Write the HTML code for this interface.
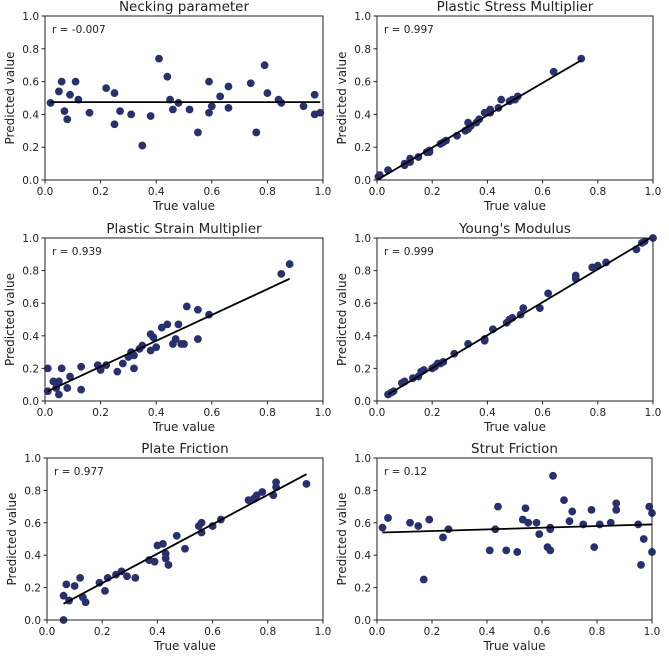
<!DOCTYPE html>
<html><head><meta charset="utf-8"><style>
body{margin:0;background:#fff;}
svg text{font-family:"DejaVu Sans","Liberation Sans",sans-serif;fill:#222;}
</style></head><body>
<svg id="fig" width="669" height="662" xmlns="http://www.w3.org/2000/svg"></svg>
<script>
const titles=["Necking parameter","Plastic Stress Multiplier","Plastic Strain Multiplier","Young's Modulus","Plate Friction","Strut Friction"];
const rLabels=["r = -0.007","r = 0.997","r = 0.939","r = 0.999","r = 0.977","r = 0.12"];
const ticks=[0,0.2,0.4,0.6,0.8,1.0];
const p1x=[0.02,0.05,0.06,0.07,0.08,0.09,0.11,0.12,0.16,0.22,0.25,0.25,0.27,0.31,0.35,0.38,0.41,0.44,0.45,0.46,0.48,0.52,0.55,0.59,0.59,0.60,0.63,0.66,0.66,0.74,0.76,0.79,0.80,0.84,0.85,0.93,0.97,0.97,0.99];
const p1y=[0.47,0.54,0.60,0.42,0.37,0.52,0.60,0.49,0.41,0.56,0.53,0.34,0.42,0.40,0.21,0.39,0.74,0.63,0.49,0.43,0.47,0.43,0.29,0.60,0.41,0.45,0.51,0.44,0.57,0.59,0.29,0.70,0.53,0.49,0.47,0.45,0.40,0.52,0.41];
const p1line=[[0.02,0.475],[0.99,0.475]];
const p2x=[0.005,0.01,0.04,0.1,0.1,0.12,0.12,0.15,0.18,0.19,0.19,0.23,0.24,0.25,0.29,0.32,0.33,0.33,0.34,0.36,0.37,0.39,0.41,0.41,0.44,0.45,0.48,0.49,0.5,0.51,0.64,0.74];
const p2y=[0.02,0.03,0.06,0.1,0.09,0.13,0.11,0.14,0.17,0.18,0.17,0.22,0.23,0.24,0.27,0.30,0.31,0.35,0.33,0.35,0.37,0.41,0.41,0.43,0.44,0.49,0.48,0.49,0.49,0.51,0.66,0.74];
const p2line=[[0,0],[0.74,0.73]];
const p3x=[0.01,0.01,0.03,0.04,0.05,0.05,0.06,0.08,0.09,0.13,0.13,0.19,0.2,0.22,0.26,0.28,0.3,0.31,0.32,0.32,0.34,0.35,0.38,0.38,0.39,0.4,0.42,0.44,0.46,0.47,0.48,0.49,0.5,0.51,0.55,0.55,0.59,0.85,0.88];
const p3y=[0.06,0.20,0.12,0.08,0.12,0.04,0.20,0.08,0.15,0.21,0.07,0.22,0.19,0.22,0.18,0.23,0.27,0.30,0.20,0.28,0.32,0.34,0.41,0.31,0.39,0.33,0.45,0.47,0.35,0.38,0.47,0.35,0.35,0.58,0.56,0.38,0.53,0.78,0.84];
const p3line=[[0.01,0.06],[0.88,0.75]];
const p4x=[0.04,0.05,0.06,0.09,0.1,0.13,0.15,0.16,0.17,0.2,0.21,0.22,0.23,0.24,0.28,0.33,0.39,0.39,0.42,0.47,0.48,0.49,0.52,0.53,0.59,0.62,0.72,0.72,0.78,0.8,0.83,0.94,0.96,0.97,1.0];
const p4y=[0.04,0.05,0.06,0.11,0.12,0.14,0.15,0.18,0.19,0.2,0.21,0.23,0.23,0.24,0.29,0.35,0.38,0.37,0.44,0.48,0.50,0.51,0.53,0.57,0.57,0.66,0.75,0.77,0.82,0.83,0.85,0.93,0.97,0.98,1.0];
const p4line=[[0.04,0.04],[0.99,1.0]];
const p5x=[0.06,0.07,0.06,0.08,0.1,0.12,0.13,0.14,0.19,0.21,0.22,0.25,0.27,0.29,0.32,0.37,0.39,0.4,0.42,0.43,0.43,0.44,0.47,0.5,0.55,0.56,0.56,0.6,0.63,0.73,0.75,0.76,0.78,0.82,0.83,0.83,0.94];
const p5y=[0.15,0.22,0.0,0.12,0.21,0.26,0.14,0.11,0.23,0.18,0.26,0.28,0.3,0.27,0.26,0.37,0.36,0.46,0.47,0.38,0.41,0.34,0.52,0.44,0.58,0.6,0.54,0.58,0.62,0.74,0.75,0.77,0.79,0.77,0.85,0.82,0.84];
const p5line=[[0.06,0.10],[0.94,0.90]];
const p6x=[0.02,0.04,0.12,0.15,0.19,0.17,0.24,0.26,0.41,0.43,0.44,0.47,0.51,0.53,0.54,0.55,0.58,0.59,0.62,0.63,0.63,0.63,0.64,0.68,0.7,0.71,0.75,0.78,0.79,0.81,0.85,0.87,0.87,0.95,0.96,0.97,0.99,1.0,1.0];
const p6y=[0.57,0.63,0.60,0.58,0.62,0.25,0.51,0.56,0.43,0.56,0.70,0.43,0.42,0.62,0.69,0.60,0.60,0.53,0.45,0.56,0.57,0.43,0.89,0.74,0.61,0.67,0.59,0.68,0.45,0.59,0.60,0.68,0.72,0.59,0.34,0.50,0.70,0.66,0.42];
const p6line=[[0.02,0.54],[1.0,0.59]];
const xs=[p1x,p2x,p3x,p4x,p5x,p6x], ys=[p1y,p2y,p3y,p4y,p5y,p6y], lines=[p1line,p2line,p3line,p4line,p5line,p6line];
const boxes=[[45,16,278,164],[377,16,276,164],[45,238,278,163],[377,238,276,163],[47,458,276,162],[377,458,275,162]];
const svg=document.getElementById('fig');const NS='http://www.w3.org/2000/svg';
function mk(tag,attrs,parent){const e=document.createElementNS(NS,tag);for(const k in attrs)e.setAttribute(k,attrs[k]);(parent||svg).appendChild(e);return e;}
boxes.forEach((b,i)=>{
  const [L,T,W,H]=b;
  const g=mk('g',{});
  
  
  const sx=v=>L+v*W, sy=v=>T+H-v*H;
  const t=mk('text',{x:L+W/2,y:T-5,'text-anchor':'middle','font-size':'13.5'},g);t.textContent=titles[i];
  
  
  ticks.forEach(v=>{
    mk('line',{x1:sx(v),x2:sx(v),y1:T+H,y2:T+H+3.5,stroke:'#222','stroke-width':1},g);
    const tx=mk('text',{x:sx(v),y:T+H+15,'text-anchor':'middle','font-size':'10.5'},g);tx.textContent=v.toFixed(1);
    
    
    mk('line',{x1:L-3.5,x2:L,y1:sy(v),y2:sy(v),stroke:'#222','stroke-width':1},g);
    const ty=mk('text',{x:L-6,y:sy(v)+4,'text-anchor':'end','font-size':'10.5'},g);ty.textContent=v.toFixed(1);
    
    
  });
  const xl=mk('text',{x:L+W/2,y:T+H+30,'text-anchor':'middle','font-size':'12'},g);xl.textContent='True value';
  
  
  const yl=mk('text',{x:0,y:0,'text-anchor':'middle','font-size':'12',transform:`translate(${L-31},${T+H/2}) rotate(-90)`},g);yl.textContent='Predicted value';
  
  
  xs[i].forEach((x,j)=>{
    const c=mk('circle',{cx:sx(x),cy:sy(ys[i][j]),r:3.9,fill:'#29306e'},g);
    
    
  });
  const ln=lines[i];
  const fl=mk('line',{x1:sx(ln[0][0]),y1:sy(ln[0][1]),x2:sx(ln[1][0]),y2:sy(ln[1][1]),stroke:'#000','stroke-width':1.8},g);
  
  
  const r=mk('text',{x:L+7,y:T+17,'font-size':'10.5'},g);r.textContent=rLabels[i];
  
  
  const fr=mk('rect',{x:L,y:T,width:W,height:H,fill:'none',stroke:'#222','stroke-width':1},g);
  
  
});
</script>
</body></html>
